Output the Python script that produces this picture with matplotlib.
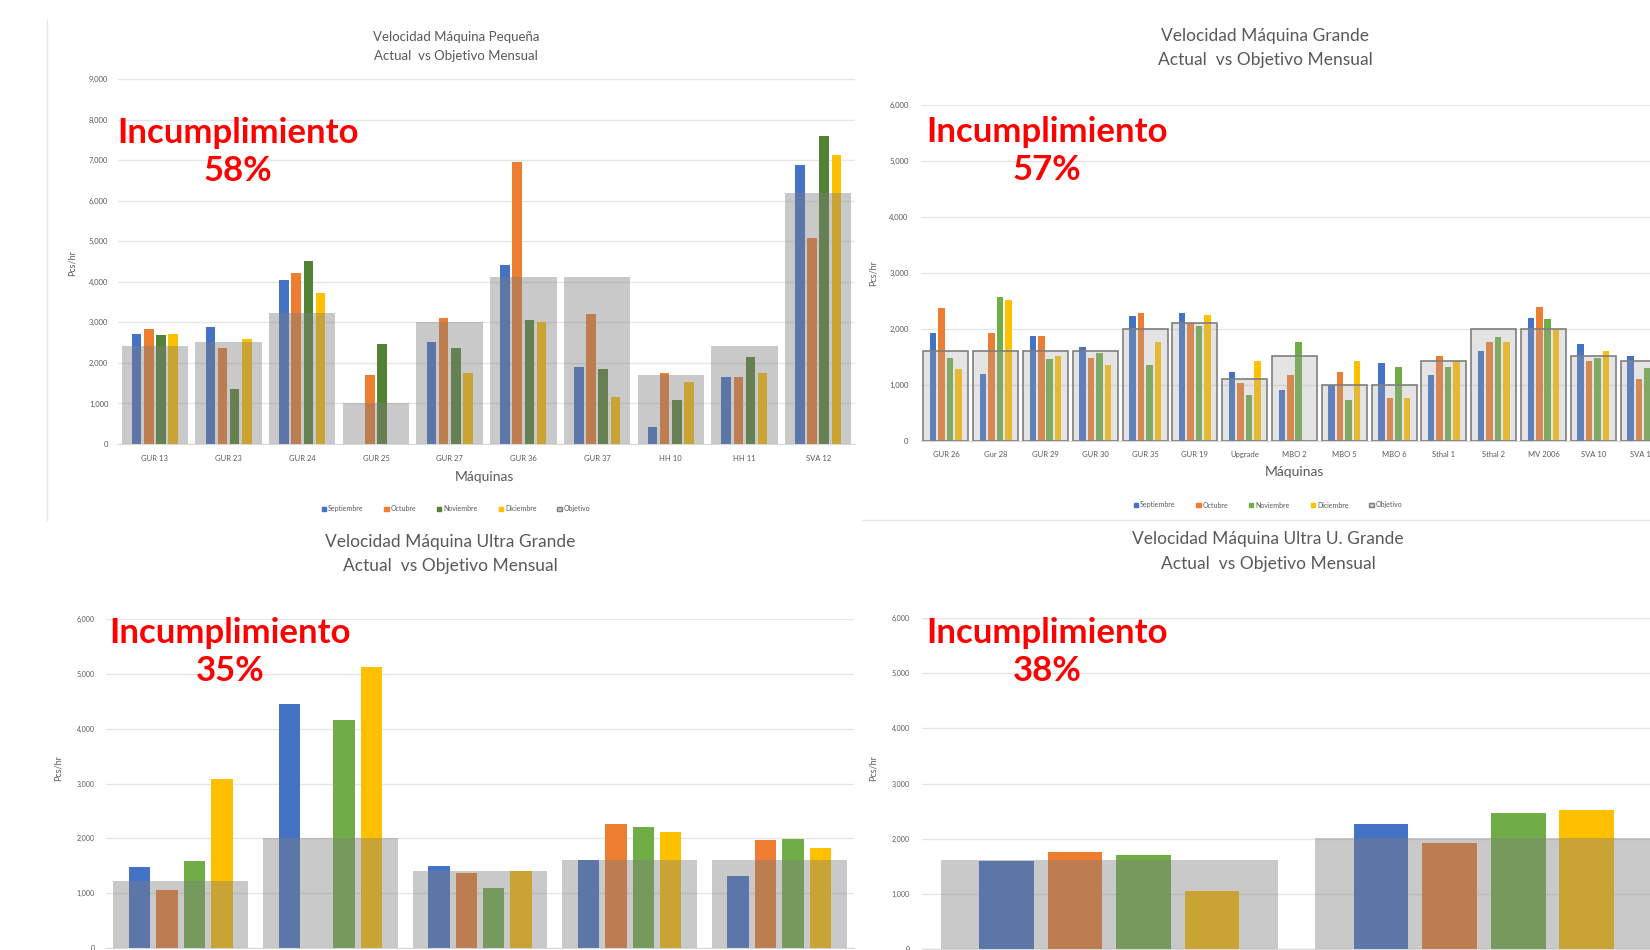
import numpy as np
import matplotlib
matplotlib.use("Agg")
import matplotlib.pyplot as plt
from matplotlib.lines import Line2D
from matplotlib.patches import Patch

plt.rcParams["font.family"] = ["Lato", "DejaVu Sans"]

# --- datos (Pcs/hr) ---
meses = ["Septiembre", "Octubre", "Noviembre", "Diciembre"]

peq_maquinas = ["GUR 13", "GUR 23", "GUR 24", "GUR 25", "GUR 27", "GUR 36", "GUR 37", "HH 10", "HH 11", "SVA 12"]
peq_sep = [2720, 2890, 4050, 0, 2510, 4410, 1900, 410, 1650, 6880]
peq_oct = [2840, 2360, 4220, 1700, 3100, 6960, 3210, 1740, 1650, 5080]
peq_nov = [2680, 1350, 4510, 2470, 2360, 3050, 1840, 1090, 2150, 7600]
peq_dic = [2720, 2600, 3730, 0, 1740, 3000, 1150, 1540, 1760, 7130]
peq_obj = [2420, 2510, 3240, 1000, 3000, 4120, 4120, 1700, 2420, 6200]

gde_maquinas = ["GUR 26", "Gur 28", "GUR 29", "GUR 30", "GUR 35", "GUR 19", "Upgrade", "MBO 2",
                "MBO 5", "MBO 6", "Sthal 1", "Sthal 2", "MV 2006", "SVA 10", "SVA 11"]
gde_sep = [1920, 1190, 1880, 1670, 2230, 2280, 1230, 910, 1000, 1390, 1180, 1600, 2190, 1730, 1520]
gde_oct = [2370, 1920, 1880, 1480, 2290, 2100, 1030, 1180, 1240, 760, 1520, 1760, 2400, 1430, 1100]
gde_nov = [1490, 2580, 1460, 1580, 1350, 2050, 830, 1760, 730, 1330, 1330, 1860, 2180, 1490, 1300]
gde_dic = [1280, 2520, 1510, 1360, 1760, 2250, 1430, 0, 1420, 770, 1420, 1760, 1980, 1610, 1400]
gde_obj = [1610, 1610, 1610, 1610, 2000, 2110, 1110, 1510, 1000, 1000, 1420, 2000, 2000, 1510, 1420]

ug_sep = [1470, 4450, 1490, 1600, 1320]
ug_oct = [1050, 0, 1370, 2270, 1970]
ug_nov = [1580, 4160, 1100, 2200, 1980]
ug_dic = [3080, 5130, 1400, 2120, 1830]
ug_obj = [1220, 2010, 1410, 1610, 1610]

uug_sep = [1600, 2260]
uug_oct = [1750, 1930]
uug_nov = [1700, 2460]
uug_dic = [1060, 2520]
uug_obj = [1610, 2010]

incumplimiento = ["58%", "57%", "35%", "38%"]

W, H = 1650, 950
GRIS = "#595959"
AZUL, NARANJA, AMARILLO = "#4472C4", "#ED7D31", "#FFC000"

fig = plt.figure(figsize=(W / 100, H / 100), dpi=100)


def ejes(izq, arriba, der, abajo):
    return fig.add_axes([izq / W, 1 - abajo / H, (der - izq) / W, (abajo - arriba) / H])


def graficar(ax, series, objetivo, ymax, paso, ancho, colores, obj_estilo, etiquetas=None,
             tick_fs=5.5, ypad=7, xpad=8):
    x = np.arange(len(objetivo))
    for i, (vals, c) in enumerate(zip(series, colores)):
        ax.bar(x + (i - 1.5) * paso, vals, ancho, color=c, zorder=2, linewidth=0)
    ax.bar(x, objetivo, 0.9, zorder=3, **obj_estilo)
    ax.set_ylim(0, ymax)
    ax.set_yticks(np.arange(0, ymax + 1, 1000))
    ax.set_yticklabels([f"{v:,}" for v in range(0, ymax + 1, 1000)])
    ax.yaxis.grid(True, color="#E6E6E6", lw=1)
    ax.set_axisbelow(True)
    for s in ["top", "right", "left"]:
        ax.spines[s].set_visible(False)
    ax.spines["bottom"].set_color("#D9D9D9")
    ax.tick_params(length=0, labelsize=tick_fs, labelcolor=GRIS)
    ax.tick_params(axis="y", pad=ypad)
    ax.tick_params(axis="x", pad=xpad)
    ax.set_xticks(x)
    if etiquetas is not None:
        ax.set_xticklabels(etiquetas)
    else:
        ax.set_xticklabels([])


obj_solido = dict(color="#7F7F7F", alpha=0.42, linewidth=0)
obj_borde = dict(facecolor=(0.65, 0.65, 0.65, 0.3), edgecolor="#7F7F7F", linewidth=1.2)

# Velocidad Máquina Pequeña
ax1 = ejes(118, 79, 855, 444)
graficar(ax1, [peq_sep, peq_oct, peq_nov, peq_dic], peq_obj, 9000, 0.165, 0.13,
         [AZUL, NARANJA, "#548235", AMARILLO], obj_solido, peq_maquinas)
ax1.set_xlim(-0.5, len(peq_obj) - 0.5)

# Velocidad Máquina Grande
ax2 = ejes(921, 105, 921 + 15 * 49.8, 441)
graficar(ax2, [gde_sep, gde_oct, gde_nov, gde_dic], gde_obj, 6000, 0.17, 0.13,
         [AZUL, NARANJA, "#70AD47", AMARILLO], obj_borde, gde_maquinas, xpad=7, ypad=9)
ax2.set_xlim(-0.5, len(gde_obj) - 0.5)

# Velocidad Máquina Ultra Grande
ax3 = ejes(106, 619, 854, 948)
graficar(ax3, [ug_sep, ug_oct, ug_nov, ug_dic], ug_obj, 6000, 0.183, 0.143,
         [AZUL, NARANJA, "#70AD47", AMARILLO], obj_solido, tick_fs=5, ypad=8)
ax3.set_xlim(-0.5, len(ug_obj) - 0.5)

# Velocidad Máquina Ultra U. Grande
ax4 = ejes(922, 618, 1650, 949)
graficar(ax4, [uug_sep, uug_oct, uug_nov, uug_dic], uug_obj, 6000, 0.183, 0.146,
         [AZUL, NARANJA, "#70AD47", AMARILLO], obj_solido, tick_fs=5, ypad=9)
ax4.set_xlim(-0.5, -0.5 + 728 / 374.6)

# títulos
titulos = [
    ("Velocidad Máquina Pequeña", 456, 37, 56, 9.5),
    ("Velocidad Máquina Grande", 1265, 36, 60, 12.5),
    ("Velocidad Máquina Ultra Grande", 450, 542, 566, 12.5),
    ("Velocidad Máquina Ultra U. Grande", 1268, 539, 564, 12.5),
]
for t, cx, y1, y2, fs in titulos:
    fig.text(cx / W, 1 - y1 / H, t, ha="center", va="center", fontsize=fs, color=GRIS)
    fig.text(cx / W, 1 - y2 / H, "Actual  vs Objetivo Mensual", ha="center", va="center",
             fontsize=fs, color=GRIS)

# ejes: Pcs/hr y Máquinas
for x, y in [(72, 263), (873, 273), (58, 768), (873, 768)]:
    fig.text(x / W, 1 - y / H, "Pcs/hr", rotation=90, ha="center", va="center",
             fontsize=6.5, color=GRIS)
for x, y in [(484, 477), (1294, 472)]:
    fig.text(x / W, 1 - y / H, "Máquinas", ha="center", va="center", fontsize=10, color=GRIS)

# leyendas
for x, y, verde in [(456, 509, "#548235"), (1268, 505, "#70AD47")]:
    manejadores = [Patch(color=c) for c in [AZUL, NARANJA, verde, AMARILLO]]
    manejadores.append(Patch(facecolor="#C8C8C8", edgecolor="#7F7F7F"))
    fig.legend(manejadores, meses + ["Objetivo"], loc="center",
               bbox_to_anchor=(x / W, 1 - y / H), ncol=5, frameon=False, fontsize=5,
               handlelength=0.6, handleheight=0.6, handletextpad=0.3, columnspacing=3.0,
               labelcolor=GRIS)

# textos de incumplimiento
for (cx, cy), pct in zip([(238, 152), (1047, 151), (230, 652), (1047, 652)], incumplimiento):
    fig.text(cx / W, 1 - cy / H, "Incumplimiento\n" + pct, ha="center", va="center",
             ma="center", fontsize=25, fontweight="bold", color="#FF0000", linespacing=1.25)

# separadores entre gráficos
fig.add_artist(Line2D([47 / W, 47 / W], [1 - 20 / H, 1 - 520 / H], color="#E6E6E6", lw=1))
fig.add_artist(Line2D([862 / W, 1.0], [1 - 520 / H, 1 - 520 / H], color="#E6E6E6", lw=1))

fig.savefig("out.png", dpi=100)
